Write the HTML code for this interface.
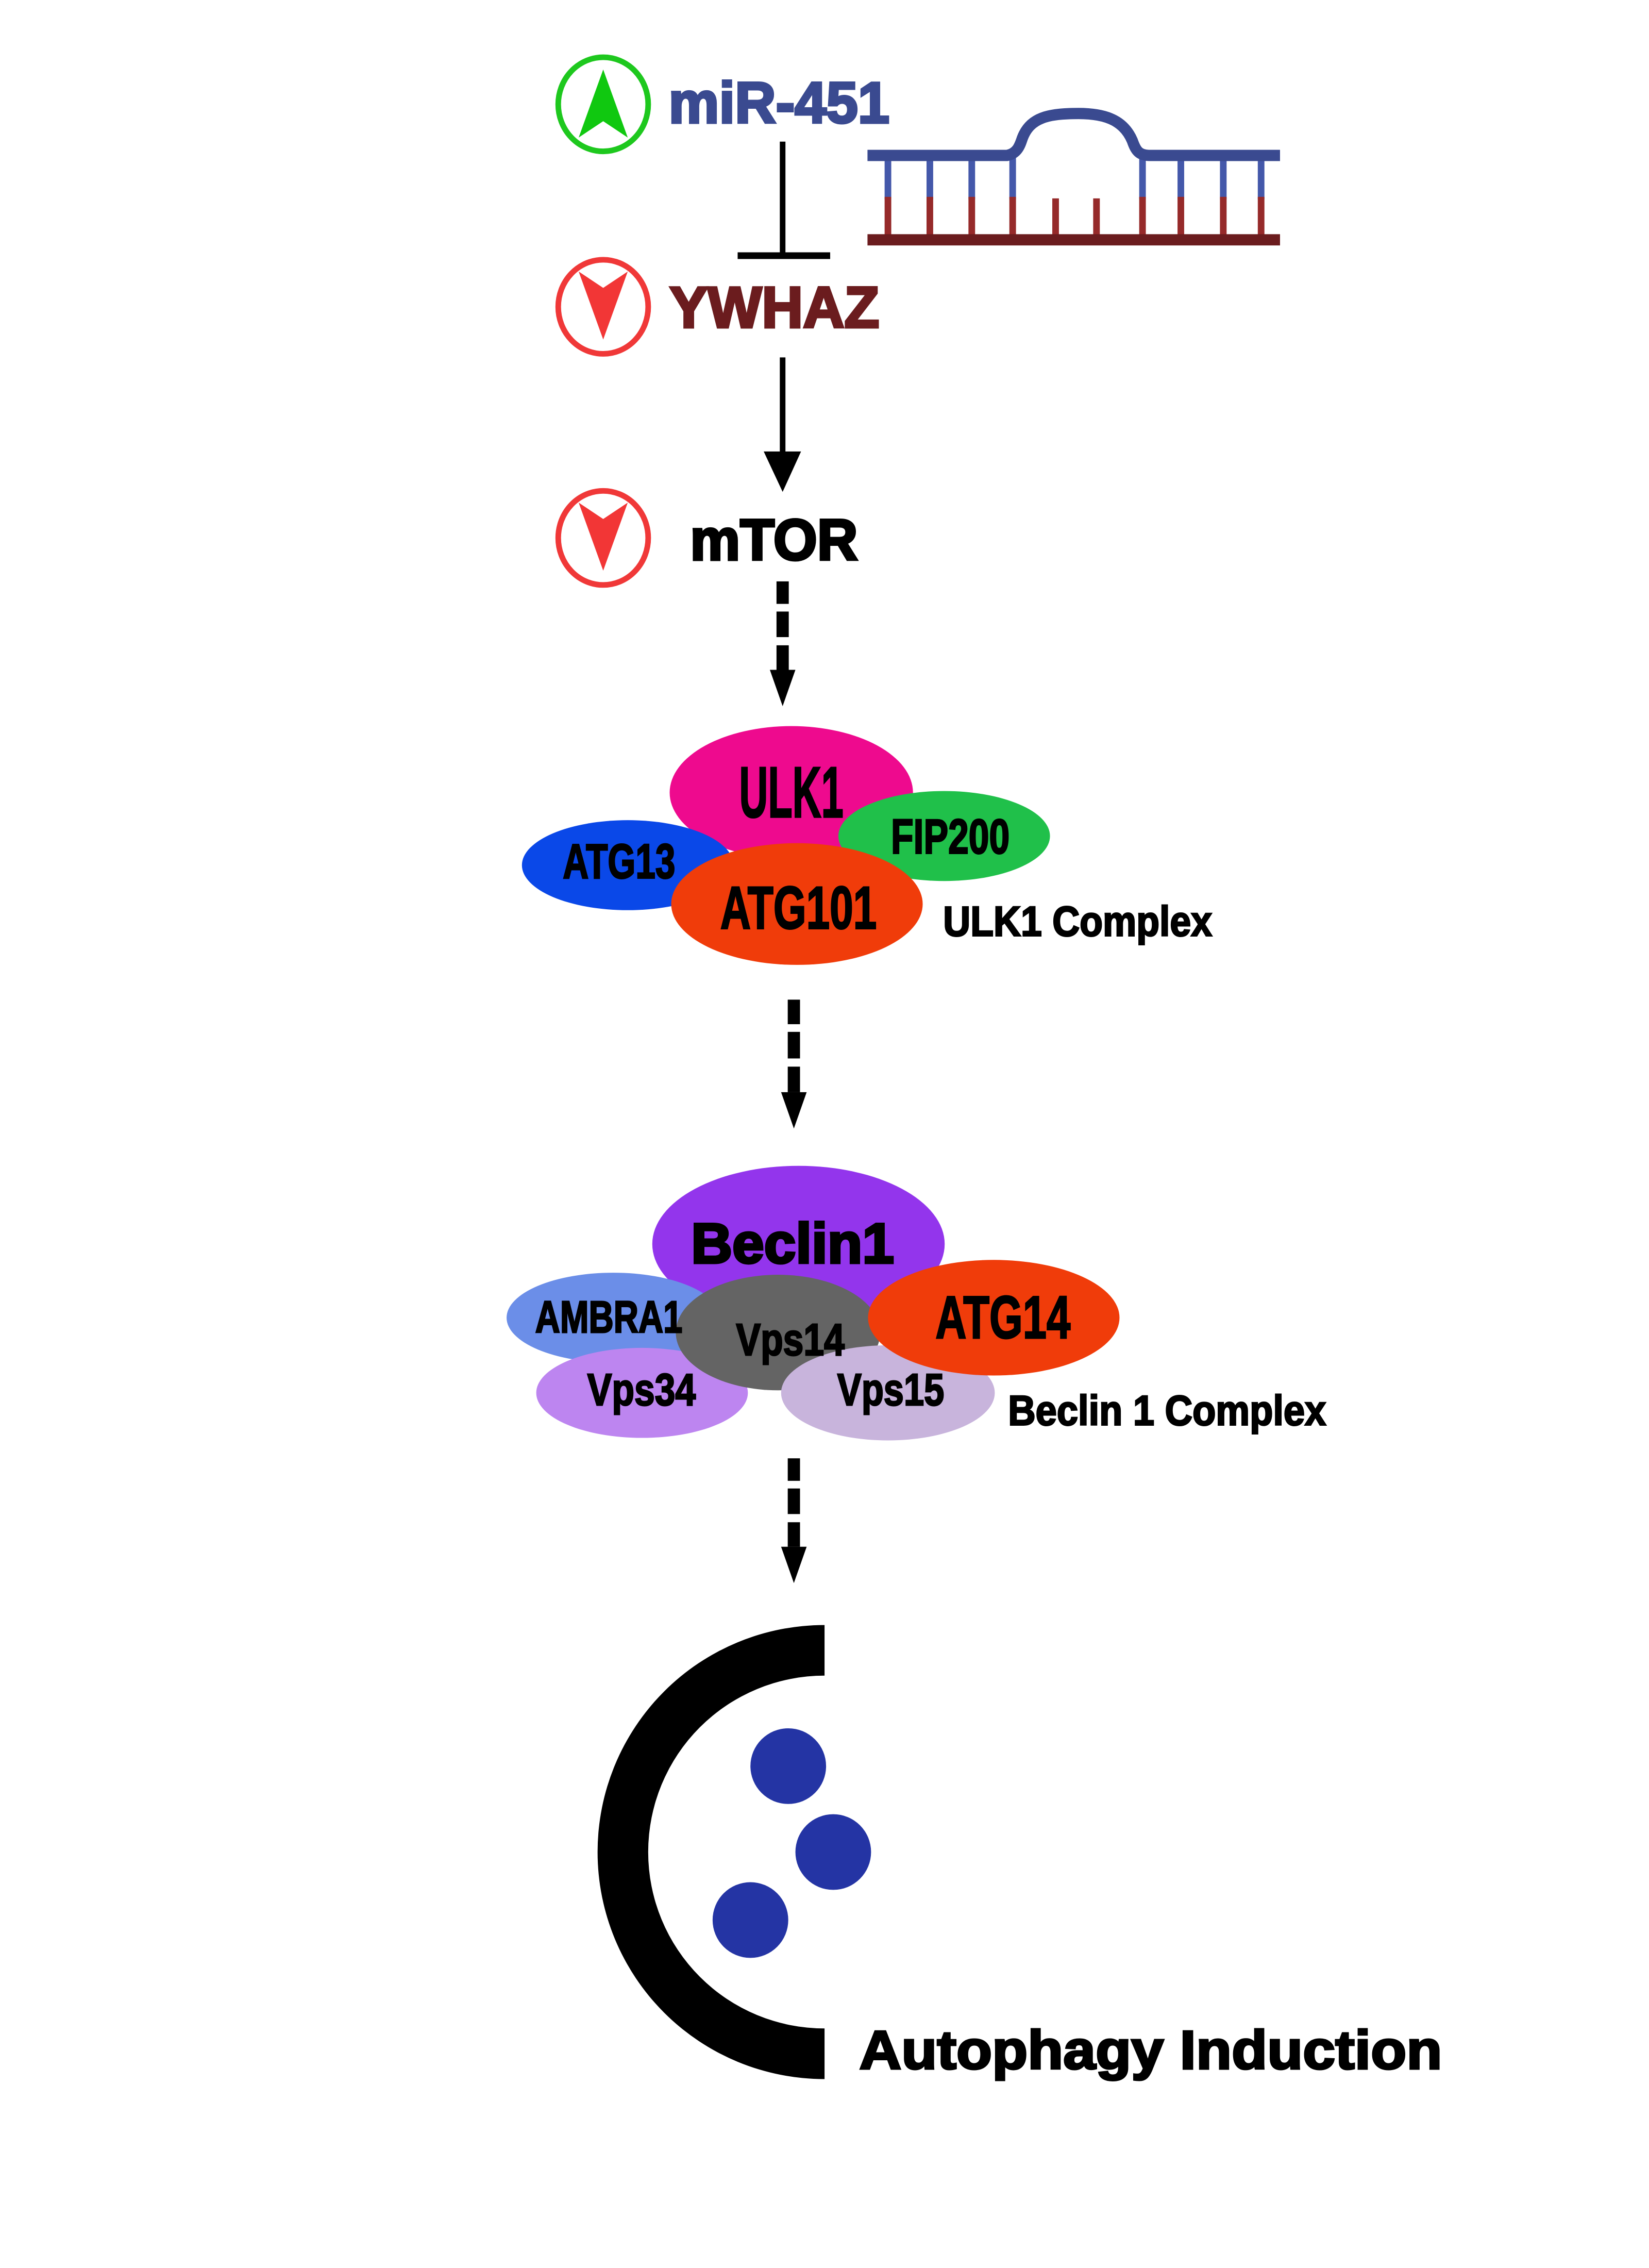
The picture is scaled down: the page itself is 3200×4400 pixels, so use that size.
<!DOCTYPE html>
<html><head><meta charset="utf-8"><style>html,body{margin:0;padding:0;background:#fff}svg{display:block}</style></head>
<body>
<svg width="3200" height="4400" viewBox="0 0 3200 4400" xmlns="http://www.w3.org/2000/svg">
<rect width="3200" height="4400" fill="#fff"/>
<g transform="scale(0.992)">
<!-- circles -->
<ellipse cx="1180" cy="204" rx="88" ry="92" fill="none" stroke="#1ec81e" stroke-width="11"/>
<polygon points="1180,136 1228,269 1180,237 1132,269" fill="#10c810"/>
<ellipse cx="1180" cy="600" rx="88" ry="92" fill="none" stroke="#f03838" stroke-width="11"/>
<polygon points="1180,664 1228,531 1180,563 1132,531" fill="#f23636"/>
<ellipse cx="1180" cy="1052" rx="88" ry="92" fill="none" stroke="#f03838" stroke-width="11"/>
<polygon points="1180,1116 1228,983 1180,1015 1132,983" fill="#f23636"/>
<g font-family="'Liberation Sans',sans-serif" font-weight="bold" stroke-width="5">
<text x="1308" y="240" font-size="113" fill="#3a4a90" stroke="#3a4a90" textLength="432" lengthAdjust="spacingAndGlyphs">miR-451</text>
<text x="1310" y="640" font-size="113" fill="#6b1c1e" stroke="#6b1c1e" textLength="410" lengthAdjust="spacingAndGlyphs">YWHAZ</text>
<text x="1350" y="1095" font-size="113" fill="#000" stroke="#000" textLength="328" lengthAdjust="spacingAndGlyphs">mTOR</text>
</g>
<!-- inhibition -->
<line x1="1531" y1="277" x2="1531" y2="500" stroke="#000" stroke-width="11"/>
<line x1="1443" y1="500" x2="1624" y2="500" stroke="#000" stroke-width="13"/>
<!-- RNA -->
<g stroke-width="13">
<line x1="1737" y1="304" x2="1737" y2="390" stroke="#4458aa"/>
<line x1="1737" y1="385" x2="1737" y2="460" stroke="#962a2a"/>
<line x1="1819" y1="304" x2="1819" y2="390" stroke="#4458aa"/>
<line x1="1819" y1="385" x2="1819" y2="460" stroke="#962a2a"/>
<line x1="1901" y1="304" x2="1901" y2="390" stroke="#4458aa"/>
<line x1="1901" y1="385" x2="1901" y2="460" stroke="#962a2a"/>
<line x1="1981" y1="304" x2="1981" y2="390" stroke="#4458aa"/>
<line x1="1981" y1="385" x2="1981" y2="460" stroke="#962a2a"/>
<line x1="2065" y1="388" x2="2065" y2="460" stroke="#962a2a"/>
<line x1="2145" y1="388" x2="2145" y2="460" stroke="#962a2a"/>
<line x1="2235" y1="304" x2="2235" y2="390" stroke="#4458aa"/>
<line x1="2235" y1="385" x2="2235" y2="460" stroke="#962a2a"/>
<line x1="2310" y1="304" x2="2310" y2="390" stroke="#4458aa"/>
<line x1="2310" y1="385" x2="2310" y2="460" stroke="#962a2a"/>
<line x1="2393" y1="304" x2="2393" y2="390" stroke="#4458aa"/>
<line x1="2393" y1="385" x2="2393" y2="460" stroke="#962a2a"/>
<line x1="2467" y1="304" x2="2467" y2="390" stroke="#4458aa"/>
<line x1="2467" y1="385" x2="2467" y2="460" stroke="#962a2a"/>
</g>
<path d="M1697,304 H1970 C1990,300 1995,285 2000,270 C2015,230 2050,222 2110,222 C2170,222 2200,240 2215,275 C2222,295 2228,304 2250,304 H2504" fill="none" stroke="#3a4a90" stroke-width="22"/>
<rect x="1697" y="458" width="807" height="22" fill="#6b1c1e"/>
<!-- arrow 1 -->
<line x1="1531" y1="699" x2="1531" y2="890" stroke="#000" stroke-width="11"/>
<polygon points="1494,883 1567,883 1531,962" fill="#000"/>
<!-- dashed arrows -->
<g fill="#000">
<rect x="1519" y="1137" width="24" height="44"/><rect x="1519" y="1196" width="24" height="50"/><rect x="1519" y="1262" width="24" height="48"/>
<polygon points="1506,1310 1556,1310 1531,1381"/>
<rect x="1541" y="1955" width="24" height="48"/><rect x="1541" y="2018" width="24" height="52"/><rect x="1541" y="2086" width="24" height="50"/>
<polygon points="1528,2136 1578,2136 1553,2207"/>
<rect x="1541" y="2852" width="24" height="44"/><rect x="1541" y="2911" width="24" height="50"/><rect x="1541" y="2977" width="24" height="48"/>
<polygon points="1528,3025 1578,3025 1553,3096"/>
</g>
<!-- ULK1 complex -->
<ellipse cx="1548" cy="1550" rx="238" ry="130" fill="#ee0a8e"/>
<ellipse cx="1228" cy="1692" rx="207" ry="88" fill="#0a48e8"/>
<ellipse cx="1847" cy="1635" rx="207" ry="88" fill="#20c04a"/>
<ellipse cx="1559" cy="1768" rx="246" ry="119" fill="#f03c0a"/>
<g font-family="'Liberation Sans Narrow','Liberation Sans',sans-serif" font-weight="bold" fill="#000" stroke="#000" stroke-width="3">
<text x="1446" y="1598" font-size="141" textLength="204" lengthAdjust="spacingAndGlyphs">ULK1</text>
<text x="1743" y="1669" font-size="95" textLength="232" lengthAdjust="spacingAndGlyphs">FIP200</text>
<text x="1101" y="1717" font-size="95" textLength="220" lengthAdjust="spacingAndGlyphs">ATG13</text>
<text x="1409" y="1816" font-size="118" textLength="306" lengthAdjust="spacingAndGlyphs">ATG101</text>
<text x="1845" y="1830" font-size="82" textLength="526" lengthAdjust="spacingAndGlyphs">ULK1 Complex</text>
</g>
<!-- Beclin complex -->
<ellipse cx="1562" cy="2433" rx="286" ry="153" fill="#9335ec"/>
<ellipse cx="1200" cy="2577" rx="209" ry="88" fill="#6b8ee8"/>
<ellipse cx="1256" cy="2724" rx="207" ry="88" fill="#bd85f0"/>
<ellipse cx="1522" cy="2606" rx="200" ry="113" fill="#646464"/>
<ellipse cx="1737" cy="2724" rx="209" ry="93" fill="#c8b4dc"/>
<ellipse cx="1944" cy="2577" rx="246" ry="113" fill="#f03c0a"/>
<text x="1352" y="2470" font-family="'Liberation Sans',sans-serif" font-weight="bold" font-size="110" stroke="#000" stroke-width="5" textLength="397" lengthAdjust="spacingAndGlyphs">Beclin1</text>
<g font-family="'Liberation Sans Narrow','Liberation Sans',sans-serif" font-weight="bold" fill="#000" stroke="#000" stroke-width="3">
<text x="1047" y="2606" font-size="88" textLength="288" lengthAdjust="spacingAndGlyphs">AMBRA1</text>
<text x="1440" y="2650" font-size="88" textLength="212" lengthAdjust="spacingAndGlyphs">Vps14</text>
<text x="1830" y="2617" font-size="118" textLength="264" lengthAdjust="spacingAndGlyphs">ATG14</text>
<text x="1149" y="2748" font-size="88" textLength="212" lengthAdjust="spacingAndGlyphs">Vps34</text>
<text x="1638" y="2748" font-size="88" textLength="209" lengthAdjust="spacingAndGlyphs">Vps15</text>
<text x="1972" y="2787" font-size="82" textLength="622" lengthAdjust="spacingAndGlyphs">Beclin 1 Complex</text>
</g>
<!-- autophagosome -->
<path d="M1613,3178 A444,444 0 0 0 1613,4066 L1613,3967 A345,345 0 0 1 1613,3277 Z" fill="#000"/>
<circle cx="1542" cy="3454" r="74" fill="#2434a4"/>
<circle cx="1630" cy="3622" r="74" fill="#2434a4"/>
<circle cx="1468" cy="3755" r="74" fill="#2434a4"/>
<text x="1681" y="4046" font-family="'Liberation Sans',sans-serif" font-weight="bold" font-size="107" stroke="#000" stroke-width="4" textLength="1140" lengthAdjust="spacingAndGlyphs">Autophagy Induction</text>
</g>
</svg>
</body></html>
